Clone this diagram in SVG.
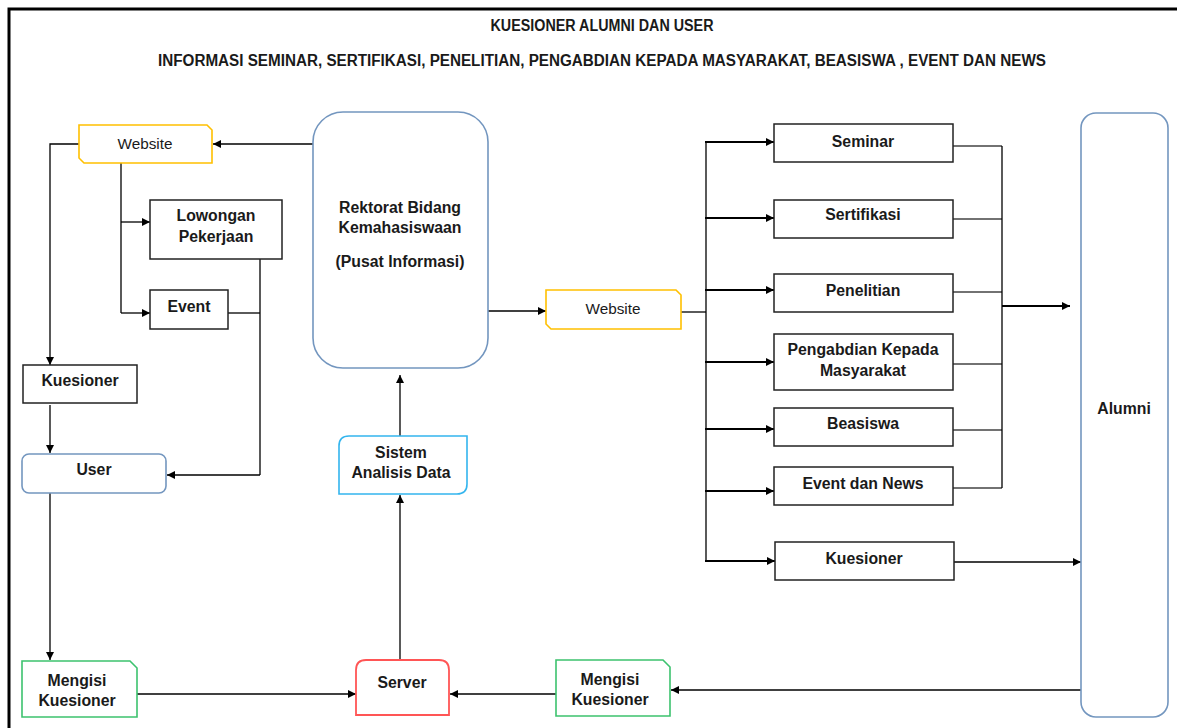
<svg xmlns="http://www.w3.org/2000/svg" width="1177" height="728" viewBox="0 0 1177 728">
<defs>
<marker id="ah" viewBox="0 0 10 10" refX="10" refY="5" markerWidth="9" markerHeight="8" markerUnits="userSpaceOnUse" orient="auto"><path d="M0,0 L10,5 L0,10 z" fill="#000"/></marker>
<style>
.t{font-family:"Liberation Sans",Arial,sans-serif;font-size:15.8px;font-weight:bold;fill:#1a1a1a;text-anchor:middle}
.n{font-weight:normal;font-size:15.3px}
.box{fill:#fff;stroke:#222;stroke-width:1.5}
.blue{fill:#fff;stroke:#7396BF;stroke-width:1.6}
.yel{fill:#fff;stroke:#FFC000;stroke-width:1.6}
.grn{fill:#fff;stroke:#3CC26E;stroke-width:1.6}
.c{fill:none;stroke:#000;stroke-width:1.3}
.ca{fill:none;stroke:#000;stroke-width:1.3;marker-end:url(#ah)}
.cb{fill:none;stroke:#000;stroke-width:2.2;marker-end:url(#ah)}
.g{fill:none;stroke:#444;stroke-width:1.3}
</style>
</defs>
<rect width="1177" height="728" fill="#fff"/>
<path d="M9,728 V9 H1177" fill="none" stroke="#000" stroke-width="3"/>
<text class="t" x="602" y="31" font-size="13" textLength="223" lengthAdjust="spacingAndGlyphs">KUESIONER ALUMNI DAN USER</text>
<text class="t" x="602" y="66" font-size="14" textLength="888" lengthAdjust="spacingAndGlyphs">INFORMASI SEMINAR, SERTIFIKASI, PENELITIAN, PENGABDIAN KEPADA MASYARAKAT, BEASISWA , EVENT DAN NEWS</text>

<g id="connectors">
<path class="ca" d="M313,144 H213"/>
<path class="ca" d="M79,144 H50 V365"/>
<path class="c" d="M121,163 V313"/>
<path class="ca" d="M121,222 H150"/>
<path class="ca" d="M121,313 H150"/>
<path class="c" d="M260,259 V475"/>
<path class="c" d="M228,313 H260"/>
<path class="ca" d="M260,475 H167"/>
<path class="ca" d="M50,405 V453"/>
<path class="ca" d="M50,493 V660"/>
<path class="ca" d="M137,694 H356"/>
<path class="ca" d="M556,694 H450"/>
<path class="ca" d="M400,660 V495"/>
<path class="ca" d="M400,436 V375"/>
<path class="ca" d="M488,311 H546"/>
<path class="c" d="M681,312 H706"/>
<path class="c" stroke-width="1.6" d="M706,141 V562"/>
<path class="cb" d="M705,142 H774"/>
<path class="cb" d="M705,218 H774"/>
<path class="cb" d="M705,290 H774"/>
<path class="cb" d="M705,362 H774"/>
<path class="cb" d="M705,429 H774"/>
<path class="cb" d="M705,491 H774"/>
<path class="cb" d="M705,561 H775"/>
<path class="g" d="M953,146 H1002 M953,219 H1002 M953,292 H1002 M953,364 H1002 M953,430 H1002 M953,488 H1002"/>
<path class="c" stroke-width="1.6" d="M1002,146 V488"/>
<path class="cb" d="M1002,306 H1070"/>
<path class="ca" d="M954,562 H1081"/>
<path class="ca" stroke="#444" stroke-width="2" d="M1081,690 H671"/>
</g>

<g id="website-left"><path class="yel" d="M79,125 H207 L212,130 V163 H84 L79,158 Z"/><text class="t n" x="145" y="149">Website</text></g>
<g id="lowongan"><rect class="box" x="150" y="200" width="132" height="59"/><text class="t" x="216" y="221">Lowongan</text><text class="t" x="216" y="242">Pekerjaan</text></g>
<g id="event"><rect class="box" x="150" y="290" width="78" height="39"/><text class="t" x="189" y="312">Event</text></g>
<g id="kuesioner-left"><rect class="box" x="23" y="365" width="114" height="38"/><text class="t" x="80" y="386">Kuesioner</text></g>
<g id="user"><rect class="blue" x="22" y="454" width="144" height="39" rx="7"/><text class="t" x="94" y="475">User</text></g>
<g id="mengisi-left"><path class="grn" d="M22,661 H130 L137,668 V717 H22 Z"/><text class="t" x="77" y="686">Mengisi</text><text class="t" x="77" y="706">Kuesioner</text></g>
<g id="server"><path fill="#fff" stroke="#FF5555" stroke-width="1.8" d="M356,715 V670 Q356,660 366,660 H439 Q449,660 449,670 V715 Z"/><text class="t" x="402" y="688">Server</text></g>
<g id="sistem"><path fill="#fff" stroke="#33B5EE" stroke-width="1.6" d="M349,436 H467 V484 Q467,494 457,494 H339 V446 Q339,436 349,436 Z"/><text class="t" x="401" y="458">Sistem</text><text class="t" x="401" y="478">Analisis Data</text></g>
<g id="rektorat"><rect class="blue" x="313" y="112" width="175" height="256" rx="30"/><text class="t" x="400" y="213">Rektorat Bidang</text><text class="t" x="400" y="233">Kemahasiswaan</text><text class="t" x="400" y="267">(Pusat Informasi)</text></g>
<g id="website-mid"><path class="yel" d="M546,290 H676 L681,295 V329 H551 L546,324 Z"/><text class="t n" x="613" y="314">Website</text></g>
<g id="seminar"><rect class="box" x="774" y="124" width="179" height="38"/><text class="t" x="863" y="147">Seminar</text></g>
<g id="sertifikasi"><rect class="box" x="774" y="200" width="179" height="38"/><text class="t" x="863" y="220">Sertifikasi</text></g>
<g id="penelitian"><rect class="box" x="774" y="274" width="179" height="38"/><text class="t" x="863" y="296">Penelitian</text></g>
<g id="pengabdian"><rect class="box" x="774" y="334" width="179" height="56"/><text class="t" x="863" y="355">Pengabdian Kepada</text><text class="t" x="863" y="376">Masyarakat</text></g>
<g id="beasiswa"><rect class="box" x="774" y="408" width="179" height="38"/><text class="t" x="863" y="429">Beasiswa</text></g>
<g id="event-news"><rect class="box" x="774" y="467" width="179" height="38"/><text class="t" x="863" y="489">Event dan News</text></g>
<g id="kuesioner-right"><rect class="box" x="775" y="542" width="179" height="38"/><text class="t" x="864" y="564">Kuesioner</text></g>
<g id="alumni"><rect class="blue" x="1081" y="113" width="87" height="604" rx="15"/><text class="t" x="1124" y="414">Alumni</text></g>
<g id="mengisi-right"><path class="grn" d="M556,660 H663 L670,667 V716 H556 Z"/><text class="t" x="610" y="685">Mengisi</text><text class="t" x="610" y="705">Kuesioner</text></g>
</svg>
